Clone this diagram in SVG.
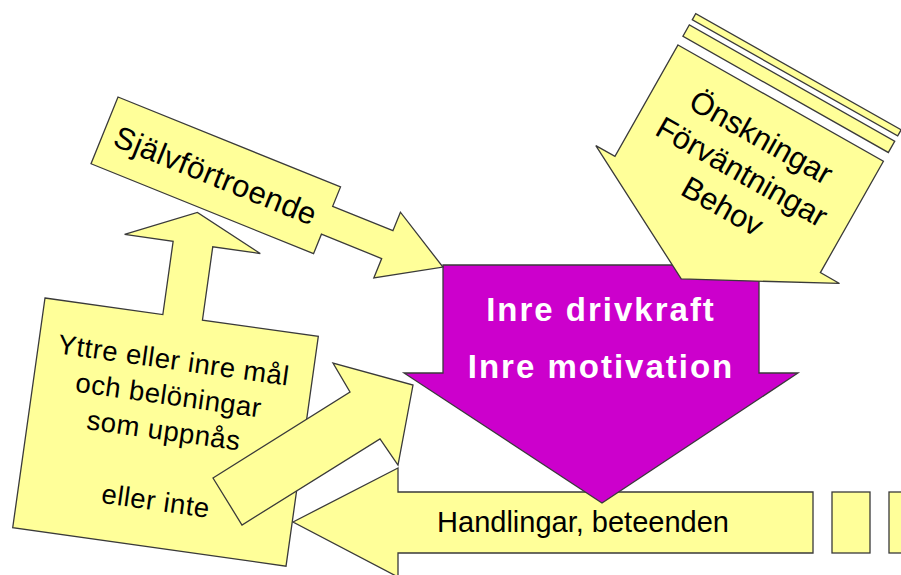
<svg xmlns="http://www.w3.org/2000/svg" width="901" height="575" viewBox="0 0 901 575">
<style>
.y{fill:#FFFF99;stroke:#3a3a3a;stroke-width:1.3;stroke-linejoin:miter}
.m{fill:#CC00CC;stroke:#3a3a3a;stroke-width:1.3}
.t{font-family:"Liberation Sans",Arial,sans-serif;fill:#000;text-anchor:middle}
.w{font-family:"Liberation Sans",Arial,sans-serif;fill:#fff;font-weight:bold;text-anchor:middle;font-size:33px;letter-spacing:2px}
</style>
<rect width="901" height="575" fill="#fff"/>
<g id="handlingar">
<polygon class="y" points="293,522 398,468 398,492 813,492 813,553 398,553 398,577"/>
<text class="t" x="583" y="532" font-size="29">Handlingar, beteenden</text>
</g>
<g id="boxes">
<rect class="y" x="832" y="492" width="38" height="61"/>
<rect class="y" x="889" y="492" width="30" height="61"/>
</g>
<g id="inre">
<polygon class="m" points="443,265 759,265 759,373 798,373 602,503 404,373 443,373"/>
<text class="w" x="601" y="321">Inre drivkraft</text>
<text class="w" x="601" y="378">Inre motivation</text>
</g>
<g id="onskningar" transform="translate(678,45) rotate(29.5)">
<rect class="y" x="0" y="-36" width="236" height="7"/>
<rect class="y" x="0" y="-23" width="236" height="13"/>
<polygon class="y" points="0,0 236,0 236,128 258,128 118,202 -22,128 0,128"/>
<text class="t" x="118" y="50" font-size="31">Önskningar</text>
<text class="t" x="118" y="89.5" font-size="31">Förväntningar</text>
<text class="t" x="118" y="129" font-size="31">Behov</text>
</g>
<g id="yttre" transform="translate(45,298) rotate(8)">
<polygon class="y" points="0,0 119,0 119,-74 70,-74 139,-106 207,-74 159,-74 159,0 276,0 276,232 0,232"/>
<text class="t" x="136" y="53" font-size="27.5" letter-spacing="0.5">Yttre eller inre mål</text>
<text class="t" x="136" y="88.5" font-size="27.5" letter-spacing="0.5">och belöningar</text>
<text class="t" x="136" y="124" font-size="27.5" letter-spacing="0.5">som uppnås</text>
<text class="t" x="138" y="195" font-size="27.5" letter-spacing="0.5">eller inte</text>
</g>
<g id="connectors">
<polygon class="y" points="213,478 350,392 333,363 413,385 398,465 380,439 242,525"/>
</g>
<g id="sjalvfortroende" transform="translate(118,97) rotate(22)">
<polygon class="y" points="0,0 240,0 240,21 305,21 305,1 365,36 305,72 305,51 240,51 240,72 0,72"/>
<text class="t" x="120" y="47" font-size="31" letter-spacing="0.5">Självförtroende</text>
</g>
</svg>
